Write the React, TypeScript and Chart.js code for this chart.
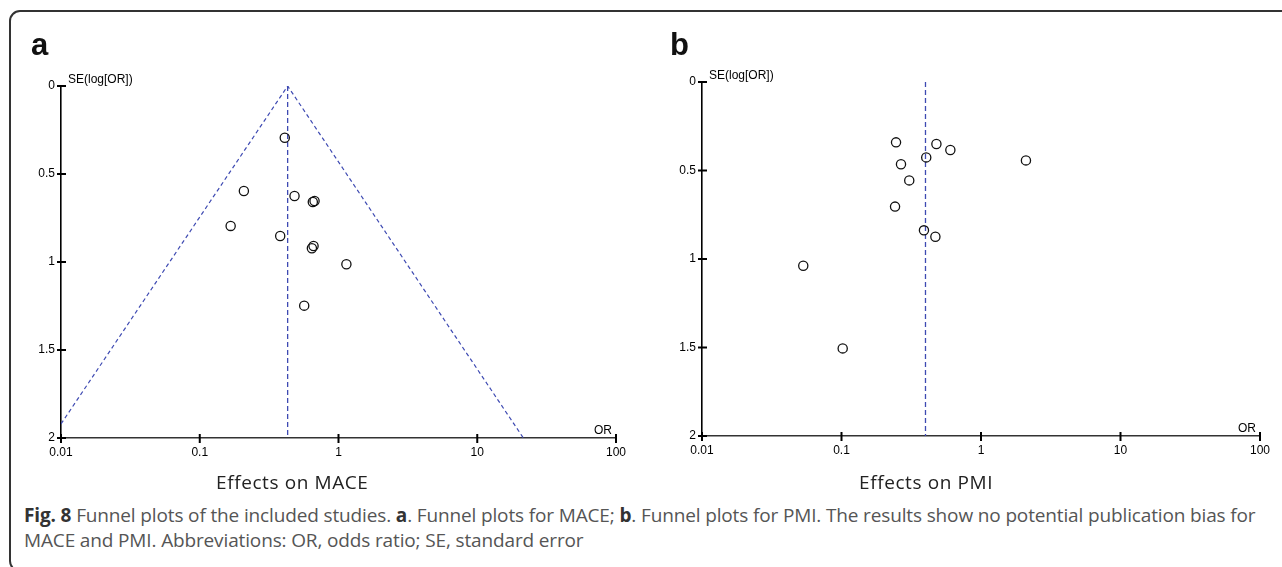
import React, { useEffect, useRef } from "react";
import { Chart, registerables } from "chart.js";

Chart.register(...registerables);

// ---------- data ----------
const xTickValues = [0.01, 0.1, 1, 10, 100];
const xTickLabels = ["0.01", "0.1", "1", "10", "100"];
const yTickValues = [0, 0.5, 1, 1.5, 2];
const yTickLabels = ["0", "0.5", "1", "1.5", "2"];

// Panel a: MACE
const maceOR = [0.41, 0.208, 0.482, 0.653, 0.672, 0.167, 0.38, 0.643, 0.661, 1.14, 0.566];
const maceSE = [0.294, 0.597, 0.625, 0.659, 0.653, 0.795, 0.852, 0.922, 0.909, 1.013, 1.248];
const maceFunnelOR = [0.01, 0.43, 21.5];
const maceFunnelSE = [1.92, 0, 2];
const macePooledOR = [0.43, 0.43];

// Panel b: PMI
const pmiOR = [0.246, 0.479, 0.603, 0.405, 2.1, 0.267, 0.306, 0.242, 0.39, 0.471, 0.0532, 0.102];
const pmiSE = [0.341, 0.35, 0.384, 0.426, 0.443, 0.465, 0.556, 0.704, 0.838, 0.874, 1.038, 1.505];
const pmiPooledOR = [0.4, 0.4];

const pooledSE = [0, 2];

// ---------- styles ----------
const DASH_COLOR = "rgb(62,74,178)";
const AXIS_FONT = "'Liberation Sans', Arial, sans-serif";

const axisDecor = {
  id: "axisDecor",
  afterDraw(chart: any) {
    const { ctx, chartArea, scales } = chart;
    const xs = scales.x;
    const ys = scales.y;
    ctx.save();
    ctx.strokeStyle = "#000";
    ctx.lineWidth = 2;
    yTickValues.forEach((v) => {
      const py = ys.getPixelForValue(v);
      ctx.beginPath();
      ctx.moveTo(chartArea.left - 4, py);
      ctx.lineTo(chartArea.left + 5, py);
      ctx.stroke();
    });
    xTickValues.forEach((v) => {
      const px = xs.getPixelForValue(v);
      ctx.beginPath();
      ctx.moveTo(px, chartArea.bottom - 4);
      ctx.lineTo(px, chartArea.bottom + 5);
      ctx.stroke();
    });
    ctx.fillStyle = "#000";
    ctx.textBaseline = "alphabetic";
    ctx.font = `12px ${AXIS_FONT}`;
    ctx.textAlign = "left";
    ctx.fillText("SE(log[OR])", chartArea.left + 7, chartArea.top - 3);
    ctx.font = `12px ${AXIS_FONT}`;
    ctx.textAlign = "right";
    ctx.fillText("OR", chartArea.right - 4, chartArea.bottom - 4);
    ctx.restore();
  },
};

type FunnelProps = {
  left: number;
  width: number;
  height: number;
  padTop: number;
  padRight: number;
  yWidth: number;
  xHeight: number;
  orVals: number[];
  seVals: number[];
  pooledOR: number[];
  funnelOR?: number[];
  funnelSE?: number[];
};

function FunnelChart(p: FunnelProps) {
  const ref = useRef<HTMLCanvasElement | null>(null);
  useEffect(() => {
    if (!ref.current) return;
    const datasets: any[] = [
      {
        data: p.orVals.map((x, i) => ({ x, y: p.seVals[i] })),
        showLine: false,
        pointRadius: 4.6,
        pointBorderWidth: 1.3,
        pointBorderColor: "#111",
        pointBackgroundColor: "rgba(255,255,255,0)",
      },
      {
        data: p.pooledOR.map((x, i) => ({ x, y: pooledSE[i] })),
        showLine: true,
        borderColor: DASH_COLOR,
        borderWidth: 1.3,
        borderDash: [5, 3],
        pointRadius: 0,
      },
    ];
    if (p.funnelOR && p.funnelSE) {
      datasets.push({
        data: p.funnelOR.map((x, i) => ({ x, y: p.funnelSE![i] })),
        showLine: true,
        borderColor: DASH_COLOR,
        borderWidth: 1.2,
        borderDash: [4, 3],
        pointRadius: 0,
        tension: 0,
      });
    }
    const chart = new Chart(ref.current, {
      type: "scatter",
      data: { datasets },
      options: {
        animation: false,
        responsive: false,
        maintainAspectRatio: false,
        layout: { padding: { left: 0, right: p.padRight, top: p.padTop, bottom: 0 } },
        plugins: { legend: { display: false }, tooltip: { enabled: false } },
        scales: {
          x: {
            type: "logarithmic",
            position: "bottom",
            min: 0.01,
            max: 100,
            afterBuildTicks: (s: any) => {
              s.ticks = xTickValues.map((v) => ({ value: v }));
            },
            afterFit: (s: any) => {
              s.height = p.xHeight;
              s.paddingLeft = 0;
              s.paddingRight = 0;
            },
            grid: { display: false, drawTicks: false },
            border: { display: true, color: "#333", width: 1.6 },
            ticks: {
              autoSkip: false,
              maxRotation: 0,
              padding: 7,
              color: "#000",
              font: { family: AXIS_FONT, size: 12 },
              callback: (v: any) => {
                const i = xTickValues.indexOf(Number(v));
                return i >= 0 ? xTickLabels[i] : "";
              },
            },
          },
          y: {
            type: "linear",
            reverse: true,
            min: 0,
            max: 2,
            afterBuildTicks: (s: any) => {
              s.ticks = yTickValues.map((v) => ({ value: v }));
            },
            afterFit: (s: any) => {
              s.width = p.yWidth;
              s.paddingTop = 0;
              s.paddingBottom = 0;
            },
            grid: { display: false, drawTicks: false },
            border: { display: true, color: "#000", width: 1.6 },
            ticks: {
              padding: 6,
              color: "#000",
              font: { family: AXIS_FONT, size: 12 },
              callback: (v: any) => {
                const i = yTickValues.indexOf(Number(v));
                return i >= 0 ? yTickLabels[i] : "";
              },
            },
          },
        },
      } as any,
      plugins: [axisDecor],
    });
    return () => chart.destroy();
  }, []);
  return (
    <canvas
      ref={ref}
      width={p.width}
      height={p.height}
      style={{ position: "absolute", left: p.left, top: 0, width: p.width, height: p.height, display: "block" }}
    />
  );
}

const CAPTION_FONT = "'Open Sans', 'Noto Sans', sans-serif";

export default function App() {
  return (
    <div
      style={{
        position: "fixed",
        left: 0,
        top: 0,
        width: 1282,
        height: 567,
        overflow: "hidden",
        background: "#fff",
      }}
    >
      <div
        style={{
          position: "absolute",
          left: 9,
          top: 10,
          width: 1400,
          height: 562,
          boxSizing: "border-box",
          border: "2px solid #333",
          borderRadius: 11,
        }}
      />
      <FunnelChart
        left={0}
        width={640}
        height={470}
        padTop={86}
        padRight={24}
        yWidth={61}
        xHeight={32}
        orVals={maceOR}
        seVals={maceSE}
        pooledOR={macePooledOR}
        funnelOR={maceFunnelOR}
        funnelSE={maceFunnelSE}
      />
      <FunnelChart
        left={640}
        width={642}
        height={470}
        padTop={82}
        padRight={22}
        yWidth={62}
        xHeight={34}
        orVals={pmiOR}
        seVals={pmiSE}
        pooledOR={pmiPooledOR}
      />
      <div
        style={{
          position: "absolute",
          left: 31,
          top: 29,
          font: `bold 31px/31px ${AXIS_FONT}`,
          color: "#111",
        }}
      >
        a
      </div>
      <div
        style={{
          position: "absolute",
          left: 670,
          top: 29,
          font: `bold 31px/31px ${AXIS_FONT}`,
          color: "#111",
        }}
      >
        b
      </div>
      <div
        style={{
          position: "absolute",
          left: 216,
          top: 470,
          font: `19px/24px ${CAPTION_FONT}`,
          letterSpacing: "0.6px",
          color: "#222",
          whiteSpace: "nowrap",
        }}
      >
        Effects on MACE
      </div>
      <div
        style={{
          position: "absolute",
          left: 859,
          top: 470,
          font: `19px/24px ${CAPTION_FONT}`,
          letterSpacing: "0.6px",
          color: "#222",
          whiteSpace: "nowrap",
        }}
      >
        Effects on PMI
      </div>
      <div
        style={{
          position: "absolute",
          left: 24,
          top: 503,
          font: `19px/25px ${CAPTION_FONT}`,
          letterSpacing: "-0.14px",
          color: "#555",
          whiteSpace: "nowrap",
        }}
      >
        <b style={{ color: "#333" }}>Fig. 8</b> Funnel plots of the included studies.{" "}
        <b style={{ color: "#333" }}>a</b>. Funnel plots for MACE; <b style={{ color: "#333" }}>b</b>. Funnel plots
        for PMI. The results show no potential publication bias for
        <br />
        MACE and PMI. Abbreviations: OR, odds ratio; SE, standard error
      </div>
    </div>
  );
}
